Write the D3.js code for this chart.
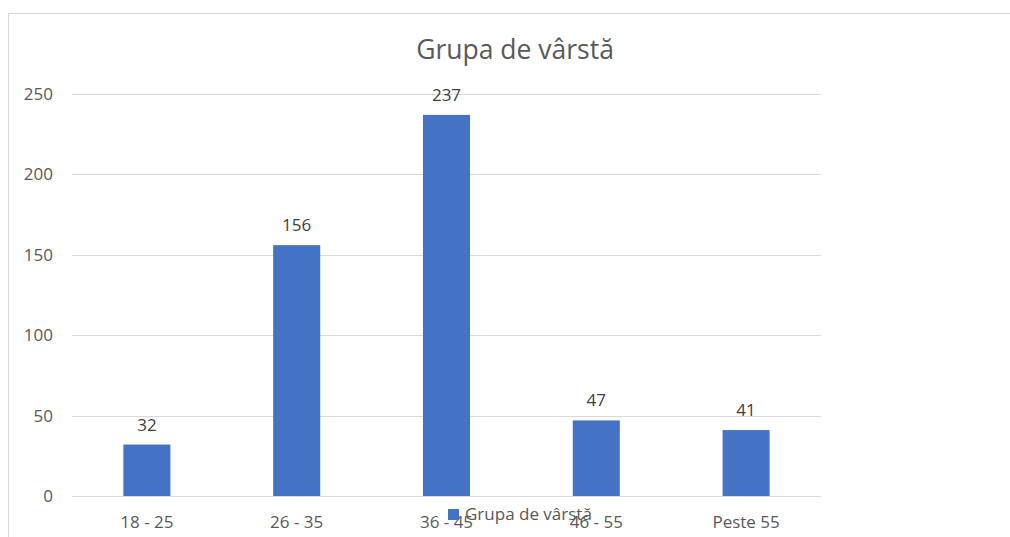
<!DOCTYPE html>
<html>
<head>
<meta charset="utf-8">
<script src="https://cdn.jsdelivr.net/npm/d3@7"></script>
<style>
  body { margin: 0; background: #fff; }
  text { font-family: "Open Sans", "Noto Sans", sans-serif; }
</style>
</head>
<body>
<div id="chart"></div>
<script>
const width = 1010;
const height = 537;

// data
const categories = ['18 - 25', '26 - 35', '36 - 45', '46 - 55', 'Peste 55'];
const values = [32, 156, 237, 47, 41];
const yTicks = [0, 50, 100, 150, 200, 250];
const title = 'Grupa de vârstă';
const seriesName = 'Grupa de vârstă';

const plot = {left: 72, right: 821, top: 94, bottom: 496};

const svg = d3.select('#chart').append('svg')
  .attr('width', width)
  .attr('height', height);

// chart frame (top + left edge visible)
svg.append('path')
  .attr('d', `M8.5,${height} V13.5 H${width}`)
  .attr('fill', 'none')
  .attr('stroke', '#d9d9d9')
  .attr('stroke-width', 1);

const x = d3.scaleBand()
  .domain(categories)
  .range([plot.left, plot.right])
  .paddingInner(0.686)
  .paddingOuter(0.343);

const y = d3.scaleLinear()
  .domain([0, 250])
  .range([plot.bottom, plot.top]);

// gridlines
svg.append('g')
  .selectAll('line')
  .data(yTicks)
  .join('line')
  .attr('x1', plot.left)
  .attr('x2', plot.right)
  .attr('y1', (d) => Math.round(y(d)) + 0.5)
  .attr('y2', (d) => Math.round(y(d)) + 0.5)
  .attr('stroke', '#d9d9d9')
  .attr('stroke-width', 1);

// y axis labels
const yaxis = d3.axisLeft(y).tickValues(yTicks).tickSize(0).tickPadding(19);
const g_yaxis = svg.append('g')
  .attr('transform', `translate(${plot.left},0)`)
  .call(yaxis);
g_yaxis.select('.domain').remove();
g_yaxis.selectAll('text')
  .attr('fill', '#595959')
  .style('font-size', '17px')
  .style('font-family', '"Open Sans", sans-serif');

// x axis labels
const xaxis = d3.axisBottom(x).tickSize(0).tickPadding(20);
const g_xaxis = svg.append('g')
  .attr('transform', `translate(0,${plot.bottom})`)
  .call(xaxis);
g_xaxis.select('.domain').remove();
g_xaxis.selectAll('text')
  .attr('fill', '#595959')
  .style('font-size', '17px')
  .style('font-family', '"Open Sans", sans-serif');

// bars
const data = categories.map((c, i) => ({cat: c, value: values[i]}));

svg.append('g')
  .selectAll('rect')
  .data(data)
  .join('rect')
  .attr('x', (d) => x(d.cat))
  .attr('y', (d) => y(d.value))
  .attr('width', x.bandwidth())
  .attr('height', (d) => y(0) - y(d.value))
  .attr('fill', '#4472c4');

// data labels
svg.append('g')
  .selectAll('text')
  .data(data)
  .join('text')
  .attr('x', (d) => x(d.cat) + x.bandwidth() / 2)
  .attr('y', (d) => y(d.value) - 14)
  .attr('text-anchor', 'middle')
  .attr('fill', '#404040')
  .style('font-size', '17px')
  .text((d) => d.value);

// title
svg.append('text')
  .attr('x', 515)
  .attr('y', 59)
  .attr('text-anchor', 'middle')
  .attr('fill', '#595959')
  .style('font-size', '26.5px')
  .text(title);

// legend (overlaps the axis labels, as in the original)
const legend = svg.append('g').attr('transform', 'translate(448,509)');
legend.append('rect')
  .attr('width', 11)
  .attr('height', 11)
  .attr('fill', '#4472c4');
legend.append('text')
  .attr('x', 17)
  .attr('y', 11)
  .attr('fill', '#595959')
  .style('font-size', '17px')
  .text(seriesName);
</script>
</body>
</html>
